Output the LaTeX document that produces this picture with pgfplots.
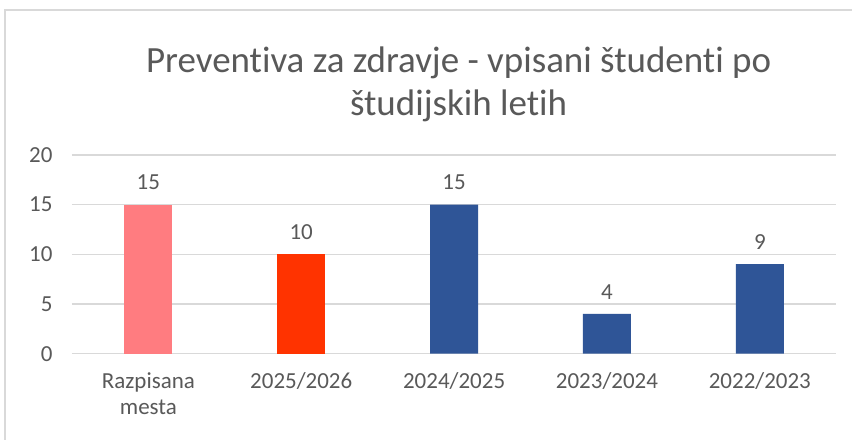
\documentclass[border=0pt]{standalone}
\usepackage{pgfplots}
\pgfplotsset{compat=1.18}
\usepackage{fontspec}
\setmainfont{Carlito}[Ligatures=NoCommon]
\definecolor{txt}{HTML}{595959}
\definecolor{gridc}{HTML}{D9D9D9}
\definecolor{cpink}{HTML}{FF7C80}
\definecolor{cred}{HTML}{FF3300}
\definecolor{cblue}{HTML}{2F5597}
\begin{document}
\begin{tikzpicture}
\fill[white] (0,0) rectangle (853bp,440bp);
\draw[gridc, line width=1.5bp] (5bp,0) -- (5bp,430bp) -- (853bp,430bp);
\node[txt, font=\fontsize{37bp}{43bp}\selectfont, align=center] at (459bp,356bp) {Preventiva za zdravje - vpisani študenti po\\študijskih letih};
\begin{axis}[
  at={(72bp,86bp)}, anchor=south west,
  scale only axis, width=765bp, height=199bp,
  xmin=-0.5, xmax=4.5, ymin=0, ymax=20,
  ytick={0,5,10,15,20},
  xtick={0,1,2,3,4},
  xticklabels={Razpisana\\mesta,2025/2026,2024/2025,2023/2024,2022/2023},
  x tick label style={align=center, font=\fontsize{23bp}{27bp}\selectfont, text=txt, yshift=-15bp},
  y tick label style={font=\fontsize{23bp}{27bp}\selectfont, text=txt, xshift=-16bp},
  /pgf/number format/assume math mode=true,
  axis line style={draw=none},
  major tick length=0pt,
  xmajorgrids=false,
  ymajorgrids, grid style={draw=gridc, line width=1.5bp},
  ybar, bar width=48bp, bar shift=0pt,
  nodes near coords,
  every node near coord/.append style={font=\fontsize{23bp}{27bp}\selectfont, text=txt, yshift=11bp},
  clip=false,
]
\addplot[fill=cpink, draw=none] coordinates {(0,15)};
\addplot[fill=cred, draw=none] coordinates {(1,10)};
\addplot[fill=cblue, draw=none] coordinates {(2,15) (3,4) (4,9)};
\end{axis}
\end{tikzpicture}
\end{document}
